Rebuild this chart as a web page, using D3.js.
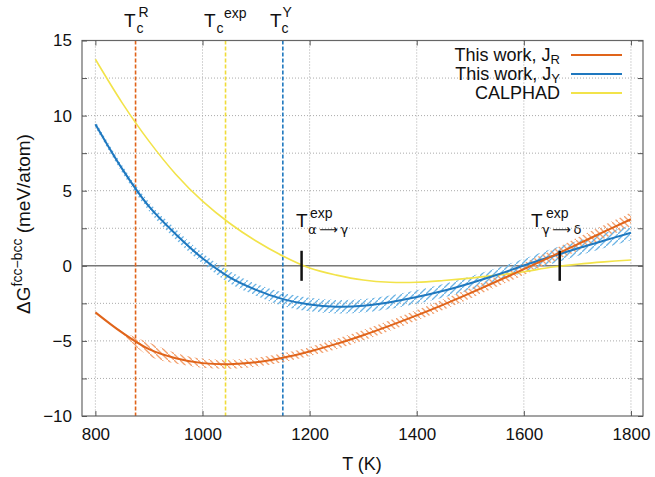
<!DOCTYPE html>
<html>
<head>
<meta charset="utf-8">
<script src="https://cdn.jsdelivr.net/npm/d3@7"></script>
<style>
  body { margin: 0; background: #fff; }
  svg text { font-family: "Liberation Sans", Arial, sans-serif; fill: #111; }
</style>
</head>
<body>
<svg id="chart" width="655" height="477"></svg>
<script>
// temperatures (K) and dG fcc-bcc (meV/atom)
const temps = [800, 850, 900, 950, 1000, 1050, 1100, 1150, 1200, 1250, 1300,
               1350, 1400, 1450, 1500, 1550, 1600, 1650, 1700, 1750, 1800];
const dgR = [-3.1, -4.45, -5.55, -6.15, -6.48, -6.55, -6.42, -6.12, -5.7, -5.2, -4.62,
             -3.98, -3.3, -2.58, -1.82, -1.03, -0.22, 0.6, 1.43, 2.27, 3.1];
const dgY = [9.42, 6.45, 3.95, 2.1, 0.5, -0.75, -1.6, -2.22, -2.58, -2.72, -2.66,
             -2.42, -2.08, -1.66, -1.16, -0.6, 0.02, 0.6, 1.15, 1.68, 2.2];
const dgCalphad = [13.75, 10.85, 8.3, 6.1, 4.3, 2.85, 1.65, 0.65, -0.15, -0.62, -0.95,
                   -1.1, -1.1, -0.98, -0.82, -0.62, -0.4, -0.1, 0.1, 0.26, 0.39];
// half width of the uncertainty bands
const bandR = [0, 0.1, 0.45, 0.35, 0.3, 0.3, 0.3, 0.3, 0.3, 0.35, 0.35,
               0.35, 0.35, 0.35, 0.35, 0.35, 0.4, 0.4, 0.45, 0.45, 0.45];
const bandY = [0.2, 0.25, 0.3, 0.35, 0.35, 0.4, 0.4, 0.45, 0.45, 0.45, 0.45,
               0.45, 0.45, 0.45, 0.45, 0.45, 0.45, 0.5, 0.5, 0.5, 0.5];

// Curie temperatures and transition markers
const curieTemps = [875, 1043, 1150];
const transTemps = [1185, 1667];

const xTicks = [800, 1000, 1200, 1400, 1600, 1800];
const yTicks = [-10, -5, 0, 5, 10, 15];
const yGrid = [-7.5, -5, -2.5, 2.5, 5, 7.5, 10, 12.5];

const cR = "#e0641a", cY = "#1f78bf", cC = "#f2e34a";

const svg = d3.select("#chart");
const x = d3.scaleLinear().domain([775, 1822.5]).range([82, 643]);
const y = d3.scaleLinear().domain([-10, 15]).range([416, 40.5]);

// hatch patterns for the bands
const defs = svg.append("defs");
function hatch(id, color, dir) {
    const p = defs.append("pattern")
        .attr("id", id)
        .attr("patternUnits", "userSpaceOnUse")
        .attr("width", 6).attr("height", 6);
    p.append("path")
        .attr("d", dir > 0 ? "M-1,7 L7,-1" : "M-1,-1 L7,7")
        .attr("stroke", color).attr("stroke-width", 1.3);
}
hatch("hY", "#6cb4e4", 1);
hatch("hR", "#f2a06e", -1);
defs.append("clipPath").attr("id", "plot")
    .append("rect").attr("x", 82).attr("y", 40.5).attr("width", 561).attr("height", 375.5);

// grid
const grid = svg.append("g").attr("stroke", "#aaa").attr("stroke-dasharray", "1,2").attr("stroke-width", 1);
grid.selectAll("line.v").data(xTicks).enter().append("line")
    .attr("x1", d => x(d)).attr("x2", d => x(d))
    .attr("y1", 40.5).attr("y2", 416);
grid.selectAll("line.h").data(yGrid).enter().append("line")
    .attr("x1", 82).attr("x2", 643)
    .attr("y1", d => y(d)).attr("y2", d => y(d));

// zero line
svg.append("line")
    .attr("x1", 82).attr("x2", 643).attr("y1", y(0)).attr("y2", y(0))
    .attr("stroke", "#777").attr("stroke-width", 1.5);

// curie lines
const curieColors = [cR, "#f0dc3a", cY];
svg.append("g").selectAll("line").data(curieTemps).enter().append("line")
    .attr("x1", d => x(d)).attr("x2", d => x(d))
    .attr("y1", 40.5).attr("y2", 416)
    .attr("stroke", (d, i) => curieColors[i])
    .attr("stroke-width", 1.6)
    .attr("stroke-dasharray", "4,2");

// bands + curves
const pts = (vals, band) => temps.map((t, i) => ({ t: t, v: vals[i], b: band ? band[i] : 0 }));
const area = d3.area().curve(d3.curveCatmullRom)
    .x(d => x(d.t)).y0(d => y(d.v - d.b)).y1(d => y(d.v + d.b));
const line = d3.line().curve(d3.curveCatmullRom)
    .x(d => x(d.t)).y(d => y(d.v));

const plot = svg.append("g").attr("clip-path", "url(#plot)");
plot.append("path").datum(pts(dgY, bandY)).attr("d", area).attr("fill", "url(#hY)");
plot.append("path").datum(pts(dgR, bandR)).attr("d", area).attr("fill", "url(#hR)");
plot.append("path").datum(pts(dgCalphad)).attr("d", line)
    .attr("fill", "none").attr("stroke", cC).attr("stroke-width", 1.6);
plot.append("path").datum(pts(dgY)).attr("d", line)
    .attr("fill", "none").attr("stroke", cY).attr("stroke-width", 2);
plot.append("path").datum(pts(dgR)).attr("d", line)
    .attr("fill", "none").attr("stroke", cR).attr("stroke-width", 2);

// transition markers
svg.append("g").selectAll("line").data(transTemps).enter().append("line")
    .attr("x1", d => x(d)).attr("x2", d => x(d))
    .attr("y1", y(1)).attr("y2", y(-1))
    .attr("stroke", "#111").attr("stroke-width", 2.5);

// frame and ticks
svg.append("rect").attr("x", 82).attr("y", 40.5).attr("width", 561).attr("height", 375.5)
    .attr("fill", "none").attr("stroke", "#666").attr("stroke-width", 1.2);

const yAllTicks = yTicks.concat(yGrid.filter(v => v % 5 !== 0));
svg.append("g").attr("transform", "translate(0,416)")
    .call(d3.axisBottom(x).tickValues(xTicks).tickSize(-5).tickPadding(12).tickFormat(d3.format("d")))
    .call(g => g.select(".domain").remove());
svg.append("g").attr("transform", "translate(0,40.5)")
    .call(d3.axisTop(x).tickValues(xTicks).tickSize(-5).tickFormat(""))
    .call(g => g.select(".domain").remove());
svg.append("g").attr("transform", "translate(82,0)")
    .call(d3.axisLeft(y).tickValues(yAllTicks).tickSize(-5).tickPadding(10)
        .tickFormat(d => d % 5 === 0 ? (d < 0 ? "\u2212" + (-d) : d) : ""))
    .call(g => g.select(".domain").remove());
svg.append("g").attr("transform", "translate(643,0)")
    .call(d3.axisRight(y).tickValues(yAllTicks).tickSize(-5).tickFormat(""))
    .call(g => g.select(".domain").remove());
svg.selectAll(".tick line").attr("stroke", "#555");
svg.selectAll(".tick text").attr("font-size", 17).attr("fill", "#111")
    .attr("font-family", "Liberation Sans, Arial, sans-serif");

// axis labels
svg.append("text").attr("x", 362).attr("y", 470).attr("text-anchor", "middle")
    .attr("font-size", 18).text("T (K)");
const yl = svg.append("text").attr("transform", "translate(30,224) rotate(-90)")
    .attr("text-anchor", "middle").attr("font-size", 19);
yl.append("tspan").text("\u0394G");
yl.append("tspan").attr("dy", -8).attr("font-size", 14).text("fcc\u2212bcc");
yl.append("tspan").attr("dy", 8).text(" (meV/atom)");

// T label with stacked sub/superscript, one text element each
function tlabel(xT, base, sub, sup, xSub, xSup, dSub, dSup) {
    const t = svg.append("text").attr("x", xT).attr("y", base).attr("font-size", 19);
    t.append("tspan").text("T");
    t.append("tspan").attr("x", xSub).attr("y", base + dSub).attr("font-size", 14).text(sub);
    t.append("tspan").attr("x", xSup).attr("y", base - dSup).attr("font-size", 14).text(sup);
}
tlabel(124, 27, "c", "R", 136.5, 138.5, 6, 10);
tlabel(204, 27, "c", "exp", 216.5, 224, 6, 9);
tlabel(270, 27, "c", "Y", 281.5, 282.5, 6, 10);
tlabel(296, 227, "\u03b1\u2009\u27f6\u2009\u03b3", "exp", 308, 310, 7, 9);
tlabel(531, 227, "\u03b3\u2009\u27f6\u2009\u03b4", "exp", 542, 546, 7, 9);
svg.selectAll("text tspan").filter(function() { return /[\u03b1-\u03b4]/.test(this.textContent); })
    .attr("font-family", "DejaVu Sans, sans-serif").attr("font-size", 13);

// legend
const legendNames = ["This work, J", "This work, J", "CALPHAD"];
const legendSubs = ["R", "Y", ""];
const legendColors = [cR, cY, cC];
const leg = svg.append("g");
legendNames.forEach((name, i) => {
    const yy = 55 + i * 19;
    const t = leg.append("text").attr("x", 560).attr("y", yy + 6)
        .attr("text-anchor", "end").attr("font-size", 18);
    t.append("tspan").text(name);
    if (legendSubs[i]) {
        t.append("tspan").attr("dy", 3).attr("font-size", 13).text(legendSubs[i]);
    }
    leg.append("line").attr("x1", 571).attr("x2", 622).attr("y1", yy).attr("y2", yy)
        .attr("stroke", legendColors[i]).attr("stroke-width", 2);
});
</script>
</body>
</html>
